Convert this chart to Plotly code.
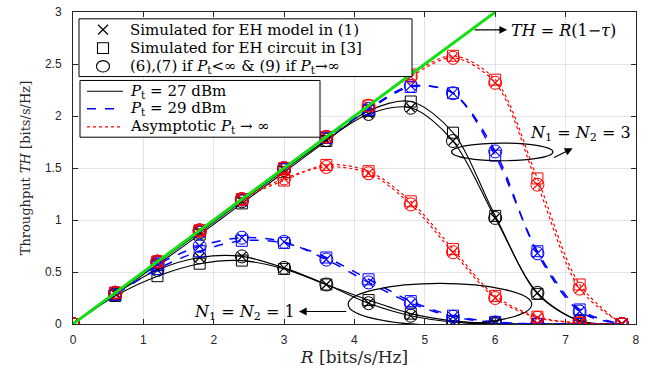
import plotly.graph_objects as go

# ---------------- data ----------------
R = [0, 0.6, 1.2, 1.8, 2.4, 3.0, 3.6, 4.2, 4.8, 5.4, 6.0, 6.6, 7.2, 7.8]
tau = 0.5
R_bound = [0, 6.0]
x_ticks = [0, 1, 2, 3, 4, 5, 6, 7, 8]
y_ticks = [0, 0.5, 1, 1.5, 2, 2.5, 3]
y_tick_labels = ["0", "0.5", "1", "1.5", "2", "2.5", "3"]

# N1 = N2 = 3
n3_27_model   = [0, 0.30, 0.59, 0.88, 1.18, 1.48, 1.77, 2.02, 2.08, 1.76, 1.02, 0.30, 0.03, 0]
n3_27_circuit = [0, 0.29, 0.57, 0.86, 1.16, 1.46, 1.76, 2.05, 2.14, 1.84, 1.04, 0.29, 0.03, 0]
n3_29_model   = [0, 0.30, 0.60, 0.90, 1.20, 1.50, 1.80, 2.07, 2.29, 2.22, 1.66, 0.68, 0.12, 0]
n3_29_circuit = [0, 0.30, 0.59, 0.89, 1.19, 1.49, 1.79, 2.06, 2.28, 2.22, 1.62, 0.70, 0.14, 0]
n3_inf_model  = [0, 0.30, 0.60, 0.90, 1.20, 1.50, 1.80, 2.10, 2.38, 2.56, 2.32, 1.34, 0.34, 0]
n3_inf_circuit= [0, 0.30, 0.60, 0.90, 1.20, 1.50, 1.80, 2.10, 2.40, 2.58, 2.35, 1.40, 0.38, 0]

# N1 = N2 = 1
n1_27_model   = [0, 0.29, 0.52, 0.64, 0.65, 0.54, 0.38, 0.20, 0.08, 0.02, 0.0, 0, 0, 0]
n1_27_circuit = [0, 0.27, 0.46, 0.58, 0.61, 0.53, 0.38, 0.23, 0.10, 0.03, 0.005, 0, 0, 0]
n1_29_model   = [0, 0.30, 0.57, 0.75, 0.83, 0.79, 0.62, 0.40, 0.20, 0.07, 0.015, 0, 0, 0]
n1_29_circuit = [0, 0.28, 0.53, 0.70, 0.80, 0.78, 0.64, 0.43, 0.22, 0.08, 0.02, 0, 0, 0]
n1_inf_model  = [0, 0.30, 0.60, 0.90, 1.20, 1.40, 1.51, 1.45, 1.15, 0.69, 0.25, 0.06, 0.01, 0]
n1_inf_circuit= [0, 0.30, 0.60, 0.90, 1.20, 1.38, 1.53, 1.47, 1.18, 0.72, 0.27, 0.07, 0.01, 0]

marker_legend_labels = [
    "Simulated for EH model in (1)",
    "Simulated for EH circuit in [3]",
    "(6),(7) if <i>P</i><sub>t</sub><∞ & (9) if <i>P</i><sub>t</sub>→∞",
]
line_legend_labels = [
    "<i>P</i><sub>t</sub> = 27 dBm",
    "<i>P</i><sub>t</sub> = 29 dBm",
    "Asymptotic <i>P</i><sub>t</sub> → ∞",
]

BLACK, BLUE, RED, GREEN = "#000000", "#0000ff", "#ff0000", "#11e011"
SERIF = "DejaVu Serif"
SANS = "Liberation Sans"

W, H = 657, 369
ML, MR, MT, MB = 73, 21, 5, 45
PW, PH = W - ML - MR, H - MT - MB


def px(X):  # pixel -> paper x
    return (X - ML) / PW


def py(Y):  # pixel -> paper y
    return (H - MB - Y) / PH


styles = [(BLACK, "solid", 1.1), (BLUE, "dash", 1.5), (RED, "dot", 1.2)]
configs = [
    (n3_27_model, n3_27_circuit, styles[0]),
    (n3_29_model, n3_29_circuit, styles[1]),
    (n3_inf_model, n3_inf_circuit, styles[2]),
    (n1_27_model, n1_27_circuit, styles[0]),
    (n1_29_model, n1_29_circuit, styles[1]),
    (n1_inf_model, n1_inf_circuit, styles[2]),
]

fig = go.Figure()

for model, circuit, (col, dash, lw) in configs:
    for vals in (model, circuit):
        fig.add_trace(go.Scatter(x=R, y=vals, mode="lines",
                                 line=dict(color=col, dash=dash, width=lw, shape="spline", smoothing=0.9),
                                 showlegend=False, hoverinfo="skip"))
    fig.add_trace(go.Scatter(x=R, y=circuit, mode="markers",
                             marker=dict(symbol="square-open", size=11, color=col, line=dict(width=1)),
                             showlegend=False))
    fig.add_trace(go.Scatter(x=R, y=model, mode="markers",
                             marker=dict(symbol="circle-open", size=13, color=col, line=dict(width=1)),
                             showlegend=False))
    fig.add_trace(go.Scatter(x=R, y=model, mode="markers",
                             marker=dict(symbol="x-thin-open", size=9, color=col, line=dict(width=1.2)),
                             showlegend=False))

# upper bound TH = R(1 - tau)
fig.add_trace(go.Scatter(x=R_bound, y=[r * (1 - tau) for r in R_bound], mode="lines",
                         line=dict(color=GREEN, width=3), showlegend=False))

# ---------------- hand-drawn legends (two boxes) ----------------
shapes = []
annotations = []
LEG_FONT = dict(family=SERIF, size=15, color="black")

# box 1 : marker types
shapes.append(dict(type="rect", xref="paper", yref="paper", layer="above",
                   x0=px(79), x1=px(412), y0=py(71), y1=py(12),
                   fillcolor="white", line=dict(color="black", width=1)))
rows1 = [23, 42, 60.5]
sym_x = 103
shapes.append(dict(type="line", xref="paper", yref="paper", layer="above",
                   x0=px(sym_x - 5), x1=px(sym_x + 5), y0=py(rows1[0] - 5), y1=py(rows1[0] + 5),
                   line=dict(color="black", width=1.2)))
shapes.append(dict(type="line", xref="paper", yref="paper", layer="above",
                   x0=px(sym_x - 5), x1=px(sym_x + 5), y0=py(rows1[0] + 5), y1=py(rows1[0] - 5),
                   line=dict(color="black", width=1.2)))
shapes.append(dict(type="rect", xref="paper", yref="paper", layer="above",
                   x0=px(sym_x - 5.5), x1=px(sym_x + 5.5), y0=py(rows1[1] + 5.5), y1=py(rows1[1] - 5.5),
                   line=dict(color="black", width=1.1)))
shapes.append(dict(type="circle", xref="paper", yref="paper", layer="above",
                   x0=px(sym_x - 6.5), x1=px(sym_x + 6.5), y0=py(rows1[2] + 5.8), y1=py(rows1[2] - 5.8),
                   line=dict(color="black", width=1.1)))
for yy, label in zip(rows1, marker_legend_labels):
    annotations.append(dict(x=px(128), y=py(yy), xref="paper", yref="paper", text=label,
                            showarrow=False, xanchor="left", yanchor="middle", font=LEG_FONT))

# box 2 : line types
shapes.append(dict(type="rect", xref="paper", yref="paper", layer="above",
                   x0=px(80), x1=px(320), y0=py(133), y1=py(75),
                   fillcolor="white", line=dict(color="black", width=1)))
rows2 = [86, 104, 122.5]
for yy, (col, dash, lw), label in zip(rows2, styles, line_legend_labels):
    shapes.append(dict(type="line", xref="paper", yref="paper", layer="above",
                       x0=px(87), x1=px(123), y0=py(yy), y1=py(yy),
                       line=dict(color=col, dash=dash, width=lw)))
    annotations.append(dict(x=px(128), y=py(yy), xref="paper", yref="paper", text=label,
                            showarrow=False, xanchor="left", yanchor="middle", font=LEG_FONT))

# ellipses marking the two antenna groups
shapes.append(dict(type="circle", xref="x", yref="y", x0=5.38, x1=6.82, y0=1.57, y1=1.74,
                   line=dict(color="black", width=1.2)))
shapes.append(dict(type="circle", xref="x", yref="y", x0=3.91, x1=6.52, y0=-0.01, y1=0.39,
                   line=dict(color="black", width=1.2)))

annotations += [
    dict(x=6.17, y=2.83, xref="x", yref="y", text="", showarrow=True, ax=-34, ay=0,
         arrowhead=2, arrowsize=1.3, arrowwidth=1.2, arrowcolor="black"),
    dict(x=6.19, y=2.82, xref="x", yref="y", text="<i>TH</i> = <i>R</i>(1−<i>τ</i>)",
         showarrow=False, xanchor="left", yanchor="middle",
         font=dict(family=SERIF, size=16, color="black")),
    dict(x=7.10, y=1.69, xref="x", yref="y", text="", showarrow=True, ax=-20, ay=10,
         arrowhead=2, arrowsize=1.3, arrowwidth=1.2, arrowcolor="black"),
    dict(x=6.47, y=1.83, xref="x", yref="y",
         text="<i>N</i><sub>1</sub> = <i>N</i><sub>2</sub> = 3",
         showarrow=False, xanchor="left", yanchor="middle",
         font=dict(family=SERIF, size=16, color="black")),
    dict(x=3.21, y=0.12, xref="x", yref="y", text="", showarrow=True, ax=49, ay=0,
         arrowhead=2, arrowsize=1.3, arrowwidth=1.2, arrowcolor="black"),
    dict(x=3.19, y=0.11, xref="x", yref="y",
         text="<i>N</i><sub>1</sub> = <i>N</i><sub>2</sub> = 1",
         showarrow=False, xanchor="right", yanchor="middle",
         font=dict(family=SERIF, size=16, color="black")),
]

axis_common = dict(showline=True, linecolor="#262626", linewidth=1, mirror="ticks",
                   ticks="inside", ticklen=5, tickcolor="#262626",
                   showgrid=True, gridcolor="#e3e3e3", gridwidth=1, zeroline=False,
                   ticklabeloverflow="allow",
                   tickfont=dict(family=SANS, size=12, color="#262626"))

fig.update_layout(
    width=W, height=H,
    margin=dict(l=ML, r=MR, t=MT, b=MB),
    paper_bgcolor="white", plot_bgcolor="white",
    showlegend=False,
    xaxis=dict(range=[0, 8.001], tickvals=x_ticks, ticktext=[str(v) for v in x_ticks],
               ticklabelstandoff=5,
               title=dict(text="<i>R</i> [bits/s/Hz]", font=dict(family=SERIF, size=17, color="#262626"), standoff=1),
               **axis_common),
    yaxis=dict(range=[0, 3.001], tickvals=y_ticks, ticktext=y_tick_labels, ticklabelstandoff=8,
               title=dict(text="Throughput <i>TH</i> [bits/s/Hz]", font=dict(family=SERIF, size=13, color="#262626"), standoff=11),
               **axis_common),
    shapes=shapes,
    annotations=annotations,
)

fig.write_html("out.html")
